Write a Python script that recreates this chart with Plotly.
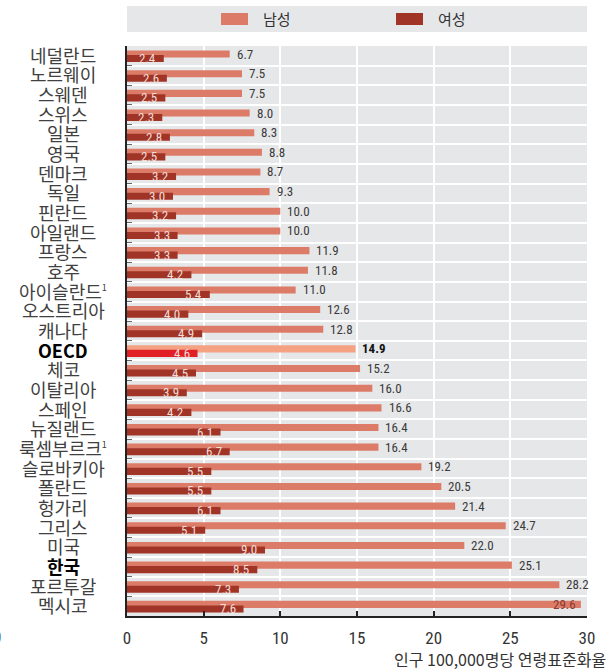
import plotly.graph_objects as go

countries = ["네덜란드", "노르웨이", "스웨덴", "스위스", "일본", "영국", "덴마크", "독일",
             "핀란드", "아일랜드", "프랑스", "호주", "아이슬란드", "오스트리아",
             "캐나다", "OECD", "체코", "이탈리아", "스페인", "뉴질랜드", "룩셈부르크",
             "슬로바키아", "폴란드", "헝가리", "그리스", "미국", "한국", "포르투갈", "멕시코"]
footnote = {"아이슬란드": "1", "룩셈부르크": "1"}
male = [6.7, 7.5, 7.5, 8.0, 8.3, 8.8, 8.7, 9.3, 10.0, 10.0, 11.9, 11.8, 11.0, 12.6, 12.8,
        14.9, 15.2, 16.0, 16.6, 16.4, 16.4, 19.2, 20.5, 21.4, 24.7, 22.0, 25.1, 28.2, 29.6]
female = [2.4, 2.6, 2.5, 2.3, 2.8, 2.5, 3.2, 3.0, 3.2, 3.3, 3.3, 4.2, 5.4, 4.0, 4.9,
          4.6, 4.5, 3.9, 4.2, 6.1, 6.7, 5.5, 5.5, 6.1, 5.1, 9.0, 8.5, 7.3, 7.6]
highlight = ["OECD", "한국"]
series_names = ["남성", "여성"]
x_ticks = [0, 5, 10, 15, 20, 25, 30]
x_title = "인구 100,000명당 연령표준화율"

MALE_C = "#dc7c68"
FEMALE_C = "#a03527"
OECD_MALE_C = "#f5a283"
OECD_FEMALE_C = "#e11f26"
BG = "#e6e7e9"
NUM_FONT = "Liberation Sans Narrow, Roboto Condensed, Arial Narrow, DejaVu Sans Condensed, sans-serif"
KR_FONT = "Noto Sans CJK KR, Noto Sans, sans-serif"

n = len(countries)
rows = list(range(n))
m_off, f_off = -0.09, 0.14

male_colors = [OECD_MALE_C if c == "OECD" else MALE_C for c in countries]
female_colors = [OECD_FEMALE_C if c == "OECD" else FEMALE_C for c in countries]

fig = go.Figure()
fig.add_trace(go.Bar(x=male, y=[r + m_off for r in rows], orientation="h", width=0.36,
                     marker=dict(color=male_colors, line=dict(width=0)), name=series_names[0],
                     showlegend=False, hoverinfo="x"))
fig.add_trace(go.Bar(x=female, y=[r + f_off for r in rows], orientation="h", width=0.36,
                     marker=dict(color=female_colors, line=dict(width=0)), name=series_names[1],
                     showlegend=False, hoverinfo="x"))

ann = []
for i, (c, mv, fv) in enumerate(zip(countries, male, female)):
    bold = c == "OECD"
    if mv > 28.5:
        ann.append(dict(x=mv, y=i + m_off, xref="x", yref="y", text=f"{mv:.1f}", showarrow=False,
                        xanchor="right", xshift=-3, yanchor="middle",
                        font=dict(family=NUM_FONT, size=13, color="#8a3a2e")))
    else:
        ann.append(dict(x=mv, y=i + m_off, xref="x", yref="y",
                        text=(f"<b>{mv:.1f}</b>" if bold else f"{mv:.1f}"), showarrow=False,
                        xanchor="left", xshift=5, yanchor="middle",
                        font=dict(family=NUM_FONT, size=13, color="#111" if bold else "#3a3a3a")))
    ann.append(dict(x=fv, y=i + f_off, xref="x", yref="y", text=f"{fv:.1f}", showarrow=False,
                    xanchor="right", xshift=-6, yanchor="middle",
                    font=dict(family=NUM_FONT, size=13, color="#f2dcd6")))
    hl = c in highlight
    label = f"<b>{c}</b>" if hl else c
    if c in footnote:
        label += f"<sup><span style='font-size:9px'>{footnote[c]}</span></sup>"
    ann.append(dict(x=(63 - 127) / 460, y=i, xref="paper", yref="y",
                    text=label, showarrow=False, xanchor="center",
                    yanchor="middle", yshift=1,
                    font=dict(family=KR_FONT, size=18, color="#000" if hl else "#404040")))

PH = 570.0
def py(px):
    return (616 - px) / PH
def pxx(px):
    return (px - 127) / 460.0

shapes = [
    dict(type="rect", xref="paper", yref="paper", x0=pxx(127), x1=pxx(587), y0=py(32), y1=py(6),
         fillcolor=BG, line=dict(width=0), layer="below"),
    dict(type="rect", xref="paper", yref="paper", x0=pxx(221), x1=pxx(248), y0=py(25), y1=py(13),
         fillcolor=MALE_C, line=dict(width=0)),
    dict(type="rect", xref="paper", yref="paper", x0=pxx(396), x1=pxx(423), y0=py(25), y1=py(13),
         fillcolor=FEMALE_C, line=dict(width=0)),
]
ann.append(dict(x=pxx(261), y=py(18), xref="paper", yref="paper", text=series_names[0],
                showarrow=False, xanchor="left", yanchor="middle",
                font=dict(family=KR_FONT, size=15, color="#333")))
ann.append(dict(x=pxx(436), y=py(18), xref="paper", yref="paper", text=series_names[1],
                showarrow=False, xanchor="left", yanchor="middle",
                font=dict(family=KR_FONT, size=15, color="#333")))
ann.append(dict(x=pxx(608), y=py(659), xref="paper", yref="paper", text=x_title,
                showarrow=False, xanchor="right", yanchor="middle",
                font=dict(family=KR_FONT, size=16, color="#333")))
ann.append(dict(x=pxx(-3), y=py(637), xref="paper", yref="paper", text="0",
                showarrow=False, xanchor="center", yanchor="middle",
                font=dict(family=NUM_FONT, size=17, color="#333")))

fig.update_layout(
    width=613, height=672,
    margin=dict(l=127, r=26, t=46, b=56),
    paper_bgcolor="white", plot_bgcolor=BG,
    barmode="overlay",
    annotations=ann, shapes=shapes,
    xaxis=dict(range=[0, 30], tickvals=x_ticks, ticktext=[str(v) for v in x_ticks],
               ticks="inside", ticklen=5, tickcolor="#222", tickwidth=1.5,
               showline=True, linecolor="#222", linewidth=2,
               showgrid=True, gridcolor="white", gridwidth=2, zeroline=False,
               tickfont=dict(family=NUM_FONT, size=17, color="#333"), ticklabelstandoff=6),
    yaxis=dict(range=[n - 0.5, -0.5], tickvals=[r - 0.5 for r in range(n + 1)],
               showticklabels=False, ticks="inside", ticklen=5, tickcolor="#666",
               showline=True, linecolor="#222", linewidth=2,
               showgrid=True, gridcolor="white", gridwidth=2, zeroline=False),
    showlegend=False,
)

fig.write_html("out.html", config={"displayModeBar": False},
               post_script="document.body.style.margin='0';")
